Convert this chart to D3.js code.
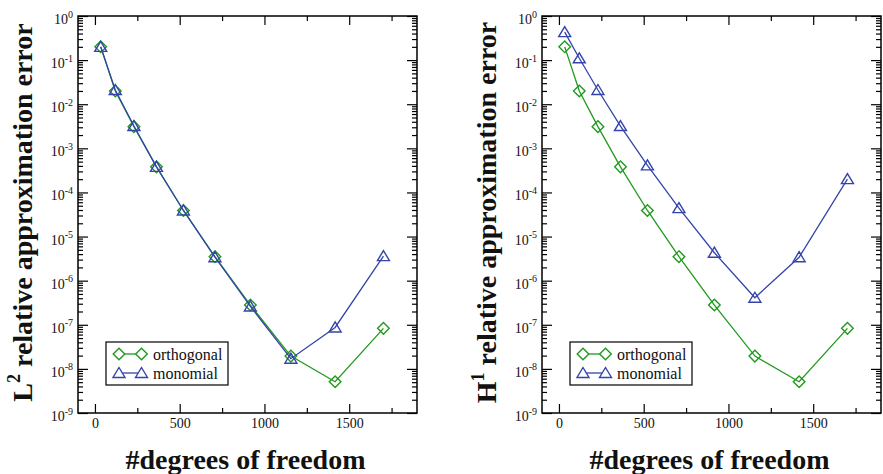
<html lang="en">
<head>
<meta charset="utf-8">
<title>Relative approximation error vs degrees of freedom</title>
<script src="https://d3js.org/d3.v7.min.js"></script>
<style>
  body { margin: 0; background: #fff; }
  text { font-family: "Liberation Serif", "Times New Roman", serif; }
</style>
</head>
<body>
<div id="viz"></div>
<script>
// data
var dof = [34, 120, 230, 363, 522, 708, 917, 1156, 1417, 1702];

var l2Orthogonal = [0.2, 0.02, 3.1e-3, 3.8e-4, 3.9e-5, 3.5e-6, 2.8e-7, 1.95e-8, 5.1e-9, 8.3e-8];
var l2Monomial   = [0.2, 0.021, 3.2e-3, 3.8e-4, 3.9e-5, 3.4e-6, 2.6e-7, 1.7e-8, 8.7e-8, 3.6e-6];

var h1Orthogonal = [0.2, 0.02, 3.1e-3, 3.8e-4, 3.9e-5, 3.5e-6, 2.8e-7, 1.95e-8, 5.1e-9, 8.3e-8];
var h1Monomial   = [0.43, 0.11, 0.021, 3.2e-3, 4.1e-4, 4.4e-5, 4.3e-6, 4.1e-7, 3.4e-6, 2.0e-4];

var seriesNames = ["orthogonal", "monomial"];
var xMajor = [0, 500, 1000, 1500];
var xMinor = [250, 750, 1250, 1750];
var yExponents = [0, -1, -2, -3, -4, -5, -6, -7, -8, -9];

var W = 883, H = 474;
var top0 = 16, bottom0 = 413;
var green = "#1f9a1f", blue = "#3444ab";
var serif = "Liberation Serif, Times New Roman, serif";

var yMinor = [];
yExponents.forEach(function(e) {
  if (e === 0) return;
  for (var m = 2; m <= 9; m++) yMinor.push(m * Math.pow(10, e));
});

var svg = d3.select("#viz").append("svg")
    .attr("width", W)
    .attr("height", H)
    .attr("font-family", serif);

var diamond = "M0,-5.8L5.8,0L0,5.8L-5.8,0Z";
var triangle = "M0,-5.5L6,4.5L-6,4.5Z";

function drawPanel(left, right, letter, sup, orth, mono) {
  var x = d3.scaleLinear().domain([-100, 1900]).range([left, right]);
  var y = d3.scaleLog().domain([1e-9, 1]).range([bottom0, top0]);
  var g = svg.append("g");

  // tick marks, all pointing inward
  function ticks(axis, tr) {
    var a = g.append("g").attr("transform", tr).call(axis);
    a.select(".domain").remove();
    a.selectAll("line").attr("stroke", "#000").attr("stroke-width", 1.2);
    return a;
  }
  var xb = ticks(d3.axisBottom(x).tickValues(xMajor).tickSize(-9).tickSizeOuter(0)
        .tickPadding(5.5).tickFormat(d3.format("d")),
        "translate(0," + bottom0 + ")");
  xb.attr("font-family", serif).attr("font-size", 14);
  xb.selectAll("text").attr("fill", "#111");
  ticks(d3.axisBottom(x).tickValues(xMinor).tickSize(-5).tickSizeOuter(0).tickFormat(""),
        "translate(0," + bottom0 + ")");
  ticks(d3.axisTop(x).tickValues(xMajor).tickSize(-9).tickSizeOuter(0).tickFormat(""),
        "translate(0," + top0 + ")");
  ticks(d3.axisTop(x).tickValues(xMinor).tickSize(-5).tickSizeOuter(0).tickFormat(""),
        "translate(0," + top0 + ")");

  var yMajor = yExponents.map(function(e) { return Math.pow(10, e); });
  ticks(d3.axisLeft(y).tickValues(yMajor).tickSize(-10).tickSizeOuter(0).tickFormat(""),
        "translate(" + left + ",0)");
  ticks(d3.axisLeft(y).tickValues(yMinor).tickSize(-5).tickSizeOuter(0).tickFormat(""),
        "translate(" + left + ",0)");
  ticks(d3.axisRight(y).tickValues(yMajor).tickSize(-10).tickSizeOuter(0).tickFormat(""),
        "translate(" + right + ",0)");
  ticks(d3.axisRight(y).tickValues(yMinor).tickSize(-5).tickSizeOuter(0).tickFormat(""),
        "translate(" + right + ",0)");

  // 10^n labels
  var lab = g.selectAll(".ylab").data(yExponents).join("text")
      .attr("class", "ylab")
      .attr("x", left - 5)
      .attr("y", function(e) { return y(Math.pow(10, e)) + 8; })
      .attr("text-anchor", "end")
      .attr("font-size", 14)
      .attr("fill", "#111");
  lab.append("tspan").text("10");
  lab.append("tspan").attr("dy", -6.5).attr("font-size", 10)
      .text(function(e) { return e === 0 ? "0" : "-" + (-e); });

  // frame
  g.append("rect")
      .attr("x", left).attr("y", top0)
      .attr("width", right - left).attr("height", bottom0 - top0)
      .attr("fill", "none").attr("stroke", "#000").attr("stroke-width", 1.5);

  // series
  var line = d3.line()
      .x(function(d) { return x(d[0]); })
      .y(function(d) { return y(d[1]); });
  var sets = [
    { vals: orth, color: green, shape: diamond },
    { vals: mono, color: blue, shape: triangle }
  ];
  sets.forEach(function(s) {
    var pts = dof.map(function(d, i) { return [d, s.vals[i]]; });
    g.append("path").datum(pts)
        .attr("d", line)
        .attr("fill", "none").attr("stroke", s.color).attr("stroke-width", 1.3);
    g.selectAll(null).data(pts).join("path")
        .attr("d", s.shape)
        .attr("transform", function(d) { return "translate(" + x(d[0]) + "," + y(d[1]) + ")"; })
        .attr("fill", "none").attr("stroke", s.color).attr("stroke-width", 1.4);
  });

  // legend
  var lg = g.append("g").attr("transform", "translate(" + (left + 28) + ",342)");
  lg.append("rect").attr("width", 122).attr("height", 43)
      .attr("fill", "#fff").attr("stroke", "#000").attr("stroke-width", 1.2);
  sets.forEach(function(s, i) {
    var ry = 12 + i * 19;
    lg.append("line").attr("x1", 13).attr("x2", 35.5).attr("y1", ry).attr("y2", ry)
        .attr("stroke", s.color).attr("stroke-width", 1.3);
    [13, 35.5].forEach(function(mx) {
      lg.append("path").attr("d", s.shape)
          .attr("transform", "translate(" + mx + "," + ry + ")")
          .attr("fill", "#fff").attr("stroke", s.color).attr("stroke-width", 1.4);
    });
    lg.append("text").attr("x", 47).attr("y", ry + 5.5)
        .attr("font-size", 16).attr("fill", "#111")
        .text(seriesNames[i]);
  });

  // axis titles
  var yt = g.append("text")
      .attr("transform", "translate(" + (left - 46) + "," + ((top0 + bottom0) / 2 - 2) + ") rotate(-90)")
      .attr("text-anchor", "middle")
      .attr("font-size", 28).attr("font-weight", "bold").attr("fill", "#111");
  yt.append("tspan").text(letter);
  yt.append("tspan").attr("dy", -12).attr("font-size", 18).text(sup);
  yt.append("tspan").attr("dy", 12).text(" relative approximation error");

  g.append("text")
      .attr("x", (left + right) / 2 - 2).attr("y", 469)
      .attr("text-anchor", "middle")
      .attr("font-size", 28).attr("font-weight", "bold").attr("fill", "#111")
      .text("#degrees of freedom");
}

drawPanel(78, 417, "L", "2", l2Orthogonal, l2Monomial);
drawPanel(542, 881, "H", "1", h1Orthogonal, h1Monomial);
</script>
</body>
</html>
